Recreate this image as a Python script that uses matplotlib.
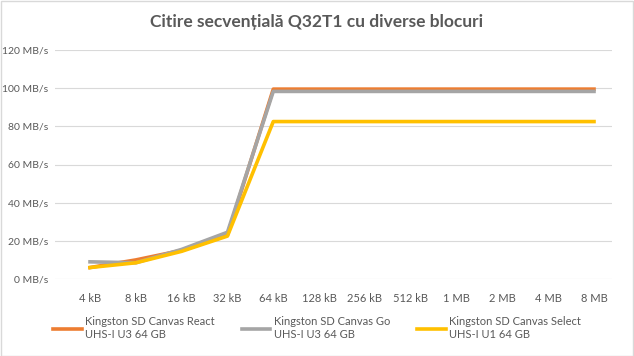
import numpy as np
import matplotlib
matplotlib.use("Agg")
from matplotlib import pyplot as plt

categorii = ["4 kB", "8 kB", "16 kB", "32 kB", "64 kB", "128 kB", "256 kB",
             "512 kB", "1 MB", "2 MB", "4 MB", "8 MB"]
react = [6, 10, 15, 23, 99.5, 99.5, 99.5, 99.5, 99.5, 99.5, 99.5, 99.5]
go = [9, 8.5, 15.5, 24.5, 98.3, 98.3, 98.3, 98.3, 98.3, 98.3, 98.3, 98.3]
select = [6, 8.5, 14.5, 22.5, 82.5, 82.5, 82.5, 82.5, 82.5, 82.5, 82.5, 82.5]
nume = ["Kingston SD Canvas React\nUHS-I U3 64 GB",
        "Kingston SD Canvas Go\nUHS-I U3 64 GB",
        "Kingston SD Canvas Select\nUHS-I U1 64 GB"]
culori = ["#ED7D31", "#A5A5A5", "#FFC000"]
y_ticks = [0, 20, 40, 60, 80, 100, 120]

plt.rcParams['font.family'] = ['Lato', 'DejaVu Sans']
txt = "#595959"

fig = plt.figure(figsize=(6.34, 3.56), dpi=100)
fig.patches.append(plt.Rectangle((0.001, 0.001), 0.997, 0.996, transform=fig.transFigure,
                                 fill=False, edgecolor="#D9D9D9", linewidth=1))
ax = fig.add_axes([55/634, 1-279/356, (612-55)/634, (279-50)/356])

x = np.arange(len(categorii))
for serie, c, n in zip([react, go, select], culori, nume):
    ax.plot(x, serie, color=c, linewidth=2.6, label=n, solid_joinstyle="round")

ax.set_ylim(0, 120)
ax.set_xlim(-(90-55)/45.8, 11 + (612-594)/45.8)
ax.set_yticks(y_ticks)
ax.set_yticklabels([f"{v} MB/s" for v in y_ticks], fontsize=7.5, color=txt)
ax.set_xticks(x)
ax.set_xticklabels(categorii, fontsize=8, color=txt)
ax.tick_params(axis="y", length=0, pad=5)
ax.tick_params(axis="x", length=0, pad=10)
ax.grid(axis="y", color="#D9D9D9", linewidth=0.8)
ax.set_axisbelow(True)
for s in ax.spines.values():
    s.set_visible(False)

fig.text(0.5, 1-22/356, "Citire secvențială Q32T1 cu diverse blocuri", ha="center",
         va="center", fontsize=12.5, fontweight="bold", color=txt)

fig.legend(loc="center", bbox_to_anchor=(0.5, 1-328/356), ncol=3, frameon=False,
           fontsize=8, labelcolor=txt, handlelength=2.6, handletextpad=0.3,
           columnspacing=2.4)

fig.savefig("out.png", dpi=100)
